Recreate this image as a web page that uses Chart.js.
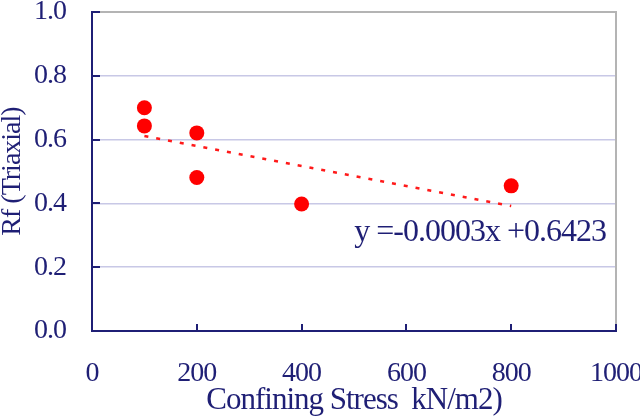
<!DOCTYPE html>
<html>
<head>
<meta charset="utf-8">
<script src="https://cdn.jsdelivr.net/npm/chart.js@4/dist/chart.umd.min.js"></script>
<style>
  html, body { margin: 0; padding: 0; background: #ffffff; }
  #box { width: 640px; height: 420px; }
</style>
</head>
<body>
<div id="box"><canvas id="myChart" width="640" height="420"></canvas></div>
<script>
// measured points
const stressValues = [100, 100, 200, 200, 400, 800];
const rfValues = [0.70, 0.643, 0.621, 0.481, 0.398, 0.455];
// linear trend as drawn
const trendStress = [100, 800];
const trendRf = [0.611, 0.392];
const trendLabel = "y =-0.0003x +0.6423";
const xTicks = [0, 200, 400, 600, 800, 1000];
const yTicks = [0.0, 0.2, 0.4, 0.6, 0.8, 1.0];

const navy = "#1f1f75";
const serif = "'Liberation Serif', 'Times New Roman', serif";

function toPoints(xs, ys) {
  let pts = [];
  for (let i = 0; i < xs.length; i++) {
    pts.push({ x: xs[i], y: ys[i] });
  }
  return pts;
}

// inside tick marks, gray top/right frame and the equation text
const framePlugin = {
  id: "framePlugin",
  beforeDraw(chart) {
    chart.ctx.letterSpacing = "-1px";
  },
  beforeDatasetsDraw(chart) {
    const ctx = chart.ctx;
    const area = chart.chartArea;
    const xs = chart.scales.x;
    const ys = chart.scales.y;
    ctx.save();
    ctx.strokeStyle = "#b4b4b4";
    ctx.lineWidth = 2;
    ctx.beginPath();
    ctx.moveTo(area.left, area.top);
    ctx.lineTo(area.right, area.top);
    ctx.lineTo(area.right, area.bottom);
    ctx.stroke();

    ctx.strokeStyle = navy;
    ctx.lineWidth = 2;
    ctx.beginPath();
    yTicks.forEach((v) => {
      let py = Math.round(ys.getPixelForValue(v));
      ctx.moveTo(area.left, py);
      ctx.lineTo(area.left + 8, py);
    });
    xTicks.forEach((v) => {
      if (v === 0) return;
      let px = Math.round(xs.getPixelForValue(v));
      ctx.moveTo(px, area.bottom);
      ctx.lineTo(px, area.bottom - 7);
    });
    ctx.stroke();
    ctx.restore();
  },
  afterDraw(chart) {
    const ctx = chart.ctx;
    ctx.save();
    ctx.letterSpacing = "-1px";
    ctx.fillStyle = navy;
    ctx.font = "32px " + serif;
    ctx.textAlign = "right";
    ctx.textBaseline = "middle";
    ctx.fillText(trendLabel, 606, 233);
    ctx.restore();
  },
};

function fitY(s) {
  s.width = 92;
  s.paddingTop = 0;
  s.paddingBottom = 0;
}

function fitX(s) {
  s.height = 89;
  s.paddingLeft = 0;
  s.paddingRight = 0;
}

const ctx = document.getElementById("myChart");

new Chart(ctx, {
  type: "scatter",
  data: {
    datasets: [
      {
        data: toPoints(stressValues, rfValues),
        backgroundColor: "#ff0000",
        borderColor: "#ff0000",
        pointRadius: 7.5,
        pointHoverRadius: 7.5,
        borderWidth: 0,
      },
      {
        type: "line",
        data: toPoints(trendStress, trendRf),
        borderColor: "#ff1a1a",
        borderWidth: 2.5,
        borderDash: [4, 8],
        pointRadius: 0,
        fill: false,
      },
    ],
  },
  options: {
    responsive: false,
    animation: false,
    devicePixelRatio: 1,
    layout: {
      autoPadding: false,
      padding: { top: 12, right: 24, left: 0, bottom: 0 },
    },
    scales: {
      x: {
        type: "linear",
        min: 0,
        max: 1000,
        afterFit: fitX,
        afterBuildTicks: (s) => { s.ticks = xTicks.map((v) => ({ value: v })); },
        grid: { display: false, drawTicks: false },
        border: { color: navy, width: 2 },
        ticks: {
          padding: 26,
          color: navy,
          font: { family: serif, size: 28 },
          maxRotation: 0,
          autoSkip: false,
          callback: (v) => String(v),
        },
        title: {
          display: true,
          text: "Confining Stress  kN/m2)",
          color: navy,
          font: { family: serif, size: 31, lineHeight: 1 },
          padding: { top: 0, bottom: 4 },
        },
      },
      y: {
        type: "linear",
        min: 0,
        max: 1,
        afterFit: fitY,
        afterBuildTicks: (s) => { s.ticks = yTicks.map((v) => ({ value: v })); },
        grid: {
          drawTicks: false,
          color: (c) => (c.tick && c.tick.value >= 1 ? "rgba(0,0,0,0)" : "#c8c8e6"),
          lineWidth: 1.5,
        },
        border: { color: navy, width: 2 },
        ticks: {
          padding: 26,
          color: navy,
          font: { family: serif, size: 28 },
          callback: (v) => Number(v).toFixed(1),
        },
        title: {
          display: true,
          text: "Rf (Triaxial)",
          color: navy,
          font: { family: serif, size: 28, lineHeight: 1 },
          padding: { top: -1, bottom: 0 },
        },
      },
    },
    plugins: {
      legend: { display: false },
      tooltip: { enabled: false },
    },
  },
  plugins: [framePlugin],
});
</script>
</body>
</html>
